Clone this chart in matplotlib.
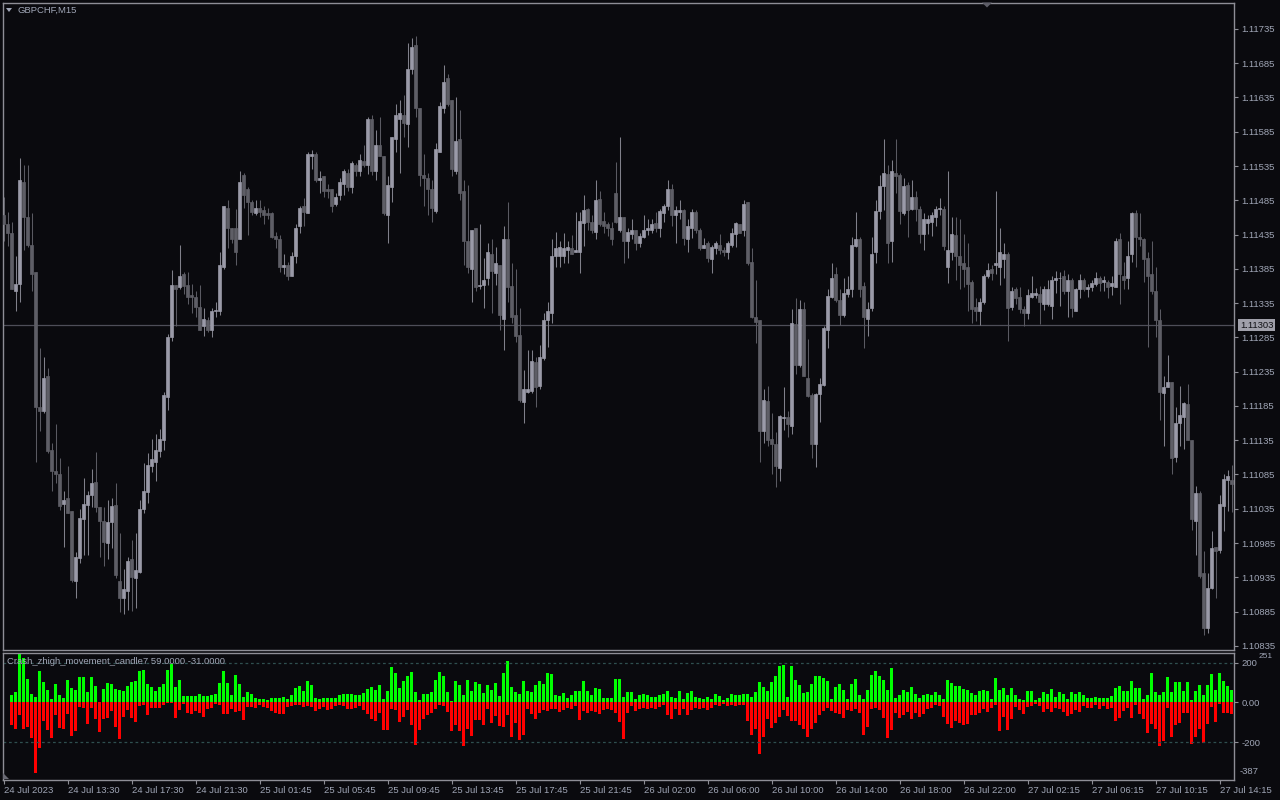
import matplotlib
matplotlib.use("Agg")
import matplotlib.pyplot as plt
import numpy as np
from matplotlib.patches import Polygon
from matplotlib.transforms import blended_transform_factory

plt.rcParams['font.family'] = ['Liberation Sans', 'DejaVu Sans']

symbol = "GBPCHF,M15"
indicator_name = "Crash_zhigh_movement_candle7 59.0000 -31.0000"
last_price = 1.11303

# M15 candles, one per bar
open_ = [
    1.11463, 1.11450, 1.11438, 1.11353, 1.11363, 1.11512, 1.11461, 1.11420, 1.11381, 1.11184,
    1.11178, 1.11228, 1.11121, 1.11090, 1.11085, 1.11042, 1.11051, 1.11032, 1.10930, 1.10963,
    1.11020, 1.11041, 1.11055, 1.11074, 1.11038, 1.11017, 1.10985, 1.11016, 1.11041, 1.10930,
    1.10905, 1.10915, 1.10962, 1.10934, 1.10943, 1.11035, 1.11060, 1.11098, 1.11103, 1.11120,
    1.11136, 1.11198, 1.11285, 1.11362, 1.11358, 1.11377, 1.11362, 1.11347, 1.11344, 1.11330,
    1.11301, 1.11311, 1.11296, 1.11323, 1.11323, 1.11387, 1.11474, 1.11444, 1.11445, 1.11429,
    1.11522, 1.11502, 1.11482, 1.11467, 1.11474, 1.11471, 1.11466, 1.11466, 1.11433, 1.11429,
    1.11387, 1.11391, 1.11375, 1.11403, 1.11447, 1.11476, 1.11467, 1.11550, 1.11552, 1.11515,
    1.11520, 1.11502, 1.11502, 1.11479, 1.11492, 1.11509, 1.11525, 1.11504, 1.11537, 1.11528,
    1.11543, 1.11537, 1.11603, 1.11528, 1.11566, 1.11550, 1.11464, 1.11505, 1.11574, 1.11604,
    1.11609, 1.11596, 1.11676, 1.11711, 1.11620, 1.11522, 1.11518, 1.11502, 1.11470, 1.11556,
    1.11620, 1.11663, 1.11631, 1.11527, 1.11574, 1.11498, 1.11426, 1.11385, 1.11444, 1.11360,
    1.11362, 1.11371, 1.11407, 1.11379, 1.11391, 1.11312, 1.11428, 1.11360, 1.11317, 1.11289,
    1.11191, 1.11206, 1.11207, 1.11249, 1.11214, 1.11255, 1.11311, 1.11320, 1.11403, 1.11403,
    1.11404, 1.11412, 1.11416, 1.11409, 1.11410, 1.11452, 1.11473, 1.11454, 1.11439, 1.11487,
    1.11455, 1.11451, 1.11445, 1.11495, 1.11441, 1.11461, 1.11426, 1.11436, 1.11441, 1.11423,
    1.11432, 1.11442, 1.11441, 1.11452, 1.11445, 1.11467, 1.11476, 1.11501, 1.11464, 1.11468,
    1.11471, 1.11429, 1.11444, 1.11468, 1.11442, 1.11416, 1.11423, 1.11400, 1.11416, 1.11420,
    1.11413, 1.11409, 1.11420, 1.11436, 1.11451, 1.11441, 1.11482, 1.11395, 1.11315, 1.11311,
    1.11149, 1.11192, 1.11137, 1.11130, 1.11095, 1.11168, 1.11169, 1.11156, 1.11305, 1.11245,
    1.11327, 1.11226, 1.11201, 1.11130, 1.11203, 1.11216, 1.11296, 1.11344, 1.11377, 1.11340,
    1.11317, 1.11349, 1.11356, 1.11419, 1.11429, 1.11360, 1.11312, 1.11328, 1.11409, 1.11470,
    1.11506, 1.11524, 1.11425, 1.11525, 1.11522, 1.11467, 1.11508, 1.11473, 1.11490, 1.11473,
    1.11436, 1.11452, 1.11454, 1.11461, 1.11473, 1.11473, 1.11388, 1.11409, 1.11435, 1.11404,
    1.11394, 1.11387, 1.11366, 1.11330, 1.11323, 1.11336, 1.11374, 1.11385, 1.11390, 1.11388,
    1.11400, 1.11406, 1.11330, 1.11356, 1.11344, 1.11327, 1.11320, 1.11344, 1.11347, 1.11349,
    1.11334, 1.11333, 1.11331, 1.11369, 1.11371, 1.11374, 1.11352, 1.11369, 1.11324, 1.11355,
    1.11369, 1.11356, 1.11359, 1.11363, 1.11371, 1.11366, 1.11366, 1.11360, 1.11359, 1.11429,
    1.11375, 1.11371, 1.11406, 1.11466, 1.11432, 1.11428, 1.11401, 1.11378, 1.11352, 1.11311,
    1.11204, 1.11213, 1.11220, 1.11111, 1.11160, 1.11169, 1.11188, 1.11136, 1.11017, 1.11058,
    1.10941, 1.10861, 1.10920, 1.10979, 1.10975, 1.11039, 1.11077, 1.11077,
]
high = [
    1.11490, 1.11468, 1.11454, 1.11403, 1.11547, 1.11536, 1.11536, 1.11466, 1.11381, 1.11270,
    1.11257, 1.11241, 1.11131, 1.11159, 1.11109, 1.11061, 1.11098, 1.11032, 1.10972, 1.11035,
    1.11080, 1.11061, 1.11093, 1.11118, 1.11038, 1.11038, 1.11048, 1.11051, 1.11073, 1.11000,
    1.10947, 1.10965, 1.10990, 1.11000, 1.11048, 1.11102, 1.11117, 1.11137, 1.11144, 1.11152,
    1.11206, 1.11290, 1.11384, 1.11362, 1.11420, 1.11381, 1.11381, 1.11363, 1.11352, 1.11362,
    1.11328, 1.11315, 1.11328, 1.11336, 1.11410, 1.11477, 1.11485, 1.11445, 1.11473, 1.11528,
    1.11525, 1.11504, 1.11485, 1.11485, 1.11486, 1.11477, 1.11474, 1.11468, 1.11439, 1.11435,
    1.11407, 1.11395, 1.11409, 1.11450, 1.11476, 1.11489, 1.11555, 1.11559, 1.11555, 1.11527,
    1.11520, 1.11509, 1.11502, 1.11496, 1.11517, 1.11530, 1.11531, 1.11543, 1.11540, 1.11553,
    1.11566, 1.11607, 1.11609, 1.11588, 1.11606, 1.11550, 1.11520, 1.11578, 1.11625, 1.11632,
    1.11638, 1.11715, 1.11721, 1.11725, 1.11620, 1.11552, 1.11525, 1.11515, 1.11569, 1.11628,
    1.11682, 1.11669, 1.11632, 1.11635, 1.11616, 1.11515, 1.11508, 1.11442, 1.11444, 1.11450,
    1.11401, 1.11423, 1.11428, 1.11417, 1.11391, 1.11447, 1.11483, 1.11394, 1.11385, 1.11328,
    1.11238, 1.11267, 1.11267, 1.11257, 1.11274, 1.11321, 1.11336, 1.11428, 1.11439, 1.11425,
    1.11438, 1.11425, 1.11435, 1.11468, 1.11468, 1.11493, 1.11474, 1.11464, 1.11515, 1.11498,
    1.11468, 1.11454, 1.11454, 1.11541, 1.11578, 1.11461, 1.11444, 1.11458, 1.11441, 1.11438,
    1.11464, 1.11457, 1.11458, 1.11468, 1.11473, 1.11479, 1.11515, 1.11509, 1.11476, 1.11485,
    1.11473, 1.11458, 1.11473, 1.11471, 1.11445, 1.11430, 1.11425, 1.11420, 1.11425, 1.11436,
    1.11417, 1.11425, 1.11445, 1.11454, 1.11451, 1.11485, 1.11483, 1.11415, 1.11369, 1.11311,
    1.11210, 1.11214, 1.11175, 1.11147, 1.11172, 1.11212, 1.11177, 1.11327, 1.11343, 1.11340,
    1.11337, 1.11282, 1.11204, 1.11204, 1.11226, 1.11301, 1.11355, 1.11394, 1.11387, 1.11356,
    1.11371, 1.11375, 1.11432, 1.11468, 1.11432, 1.11366, 1.11337, 1.11432, 1.11485, 1.11522,
    1.11574, 1.11536, 1.11544, 1.11574, 1.11525, 1.11518, 1.11511, 1.11514, 1.11498, 1.11476,
    1.11466, 1.11463, 1.11468, 1.11477, 1.11489, 1.11476, 1.11528, 1.11461, 1.11461, 1.11457,
    1.11436, 1.11423, 1.11368, 1.11343, 1.11342, 1.11377, 1.11393, 1.11391, 1.11498, 1.11445,
    1.11423, 1.11410, 1.11358, 1.11358, 1.11358, 1.11331, 1.11356, 1.11375, 1.11357, 1.11360,
    1.11360, 1.11369, 1.11375, 1.11382, 1.11381, 1.11384, 1.11377, 1.11371, 1.11357, 1.11378,
    1.11371, 1.11363, 1.11369, 1.11381, 1.11374, 1.11374, 1.11369, 1.11375, 1.11430, 1.11438,
    1.11395, 1.11425, 1.11468, 1.11471, 1.11466, 1.11430, 1.11410, 1.11426, 1.11387, 1.11327,
    1.11228, 1.11260, 1.11220, 1.11184, 1.11214, 1.11191, 1.11217, 1.11136, 1.11068, 1.11061,
    1.10974, 1.10941, 1.11003, 1.10979, 1.11055, 1.11086, 1.11092, 1.11099,
]
low = [
    1.11425, 1.11419, 1.11355, 1.11323, 1.11336, 1.11412, 1.11417, 1.11352, 1.11103, 1.11149,
    1.11175, 1.11117, 1.11061, 1.11073, 1.11033, 1.10979, 1.11029, 1.10928, 1.10905, 1.10956,
    1.10968, 1.10968, 1.11038, 1.11030, 1.10965, 1.10952, 1.10962, 1.10978, 1.10934, 1.10885,
    1.10882, 1.10887, 1.10886, 1.10890, 1.10941, 1.11029, 1.11044, 1.11089, 1.11076, 1.11111,
    1.11121, 1.11179, 1.11280, 1.11302, 1.11356, 1.11349, 1.11333, 1.11321, 1.11315, 1.11296,
    1.11287, 1.11293, 1.11285, 1.11315, 1.11317, 1.11385, 1.11416, 1.11422, 1.11390, 1.11428,
    1.11474, 1.11435, 1.11463, 1.11464, 1.11461, 1.11451, 1.11458, 1.11430, 1.11416, 1.11381,
    1.11377, 1.11369, 1.11374, 1.11394, 1.11438, 1.11448, 1.11466, 1.11530, 1.11512, 1.11496,
    1.11490, 1.11489, 1.11468, 1.11476, 1.11485, 1.11492, 1.11498, 1.11496, 1.11520, 1.11521,
    1.11534, 1.11524, 1.11522, 1.11515, 1.11549, 1.11463, 1.11423, 1.11482, 1.11556, 1.11525,
    1.11578, 1.11563, 1.11669, 1.11607, 1.11506, 1.11477, 1.11463, 1.11454, 1.11467, 1.11555,
    1.11613, 1.11623, 1.11521, 1.11524, 1.11486, 1.11391, 1.11379, 1.11336, 1.11353, 1.11355,
    1.11328, 1.11362, 1.11321, 1.11362, 1.11296, 1.11267, 1.11336, 1.11306, 1.11279, 1.11191,
    1.11160, 1.11204, 1.11204, 1.11184, 1.11209, 1.11252, 1.11271, 1.11306, 1.11388, 1.11388,
    1.11393, 1.11394, 1.11407, 1.11409, 1.11379, 1.11419, 1.11442, 1.11438, 1.11429, 1.11447,
    1.11438, 1.11433, 1.11420, 1.11452, 1.11439, 1.11394, 1.11401, 1.11428, 1.11413, 1.11417,
    1.11430, 1.11435, 1.11438, 1.11439, 1.11432, 1.11454, 1.11471, 1.11448, 1.11423, 1.11457,
    1.11420, 1.11409, 1.11430, 1.11438, 1.11412, 1.11416, 1.11395, 1.11379, 1.11406, 1.11406,
    1.11403, 1.11400, 1.11417, 1.11417, 1.11438, 1.11433, 1.11391, 1.11314, 1.11277, 1.11103,
    1.11131, 1.11127, 1.11085, 1.11067, 1.11076, 1.11150, 1.11140, 1.11144, 1.11231, 1.11242,
    1.11228, 1.11198, 1.11109, 1.11096, 1.11162, 1.11214, 1.11270, 1.11343, 1.11336, 1.11303,
    1.11315, 1.11344, 1.11344, 1.11417, 1.11344, 1.11270, 1.11287, 1.11324, 1.11394, 1.11457,
    1.11471, 1.11394, 1.11395, 1.11496, 1.11450, 1.11463, 1.11432, 1.11471, 1.11455, 1.11423,
    1.11413, 1.11436, 1.11433, 1.11447, 1.11464, 1.11412, 1.11365, 1.11398, 1.11369, 1.11356,
    1.11358, 1.11323, 1.11306, 1.11309, 1.11303, 1.11333, 1.11371, 1.11369, 1.11377, 1.11362,
    1.11372, 1.11280, 1.11325, 1.11333, 1.11320, 1.11301, 1.11312, 1.11343, 1.11342, 1.11305,
    1.11325, 1.11331, 1.11312, 1.11350, 1.11331, 1.11349, 1.11315, 1.11315, 1.11323, 1.11342,
    1.11352, 1.11344, 1.11352, 1.11360, 1.11352, 1.11353, 1.11342, 1.11347, 1.11358, 1.11334,
    1.11356, 1.11356, 1.11395, 1.11387, 1.11419, 1.11366, 1.11271, 1.11349, 1.11286, 1.11165,
    1.11127, 1.11212, 1.11085, 1.11103, 1.11127, 1.11122, 1.11136, 1.11004, 1.10968, 1.10934,
    1.10851, 1.10854, 1.10918, 1.10905, 1.10971, 1.11003, 1.11032, 1.11030,
]
close = [
    1.11451, 1.11438, 1.11355, 1.11363, 1.11514, 1.11460, 1.11420, 1.11377, 1.11184, 1.11178,
    1.11226, 1.11120, 1.11090, 1.11085, 1.11039, 1.11048, 1.11029, 1.10931, 1.10965, 1.11022,
    1.11042, 1.11055, 1.11073, 1.11038, 1.11017, 1.10987, 1.11016, 1.11039, 1.10939, 1.10905,
    1.10918, 1.10959, 1.10936, 1.10946, 1.11035, 1.11061, 1.11099, 1.11108, 1.11121, 1.11137,
    1.11201, 1.11286, 1.11362, 1.11356, 1.11375, 1.11360, 1.11344, 1.11344, 1.11330, 1.11296,
    1.11312, 1.11296, 1.11323, 1.11325, 1.11390, 1.11476, 1.11444, 1.11429, 1.11409, 1.11511,
    1.11492, 1.11482, 1.11468, 1.11474, 1.11468, 1.11464, 1.11463, 1.11432, 1.11429, 1.11387,
    1.11391, 1.11374, 1.11403, 1.11445, 1.11474, 1.11468, 1.11553, 1.11553, 1.11515, 1.11518,
    1.11499, 1.11499, 1.11476, 1.11490, 1.11512, 1.11527, 1.11505, 1.11539, 1.11528, 1.11544,
    1.11536, 1.11604, 1.11527, 1.11565, 1.11550, 1.11466, 1.11508, 1.11577, 1.11610, 1.11612,
    1.11597, 1.11676, 1.11709, 1.11620, 1.11522, 1.11518, 1.11502, 1.11474, 1.11560, 1.11622,
    1.11658, 1.11625, 1.11530, 1.11571, 1.11496, 1.11426, 1.11388, 1.11442, 1.11358, 1.11362,
    1.11369, 1.11410, 1.11382, 1.11394, 1.11317, 1.11429, 1.11358, 1.11315, 1.11287, 1.11194,
    1.11209, 1.11209, 1.11251, 1.11213, 1.11257, 1.11311, 1.11323, 1.11404, 1.11416, 1.11417,
    1.11415, 1.11417, 1.11407, 1.11413, 1.11455, 1.11471, 1.11454, 1.11441, 1.11486, 1.11451,
    1.11448, 1.11445, 1.11428, 1.11454, 1.11461, 1.11425, 1.11439, 1.11442, 1.11423, 1.11433,
    1.11442, 1.11444, 1.11451, 1.11444, 1.11470, 1.11476, 1.11502, 1.11463, 1.11471, 1.11471,
    1.11430, 1.11448, 1.11468, 1.11441, 1.11415, 1.11420, 1.11401, 1.11417, 1.11422, 1.11412,
    1.11409, 1.11423, 1.11438, 1.11452, 1.11438, 1.11480, 1.11393, 1.11315, 1.11308, 1.11149,
    1.11194, 1.11136, 1.11130, 1.11098, 1.11171, 1.11169, 1.11158, 1.11306, 1.11244, 1.11327,
    1.11228, 1.11200, 1.11130, 1.11203, 1.11217, 1.11299, 1.11346, 1.11372, 1.11340, 1.11318,
    1.11350, 1.11356, 1.11420, 1.11429, 1.11355, 1.11315, 1.11327, 1.11407, 1.11470, 1.11506,
    1.11525, 1.11423, 1.11528, 1.11521, 1.11470, 1.11506, 1.11471, 1.11490, 1.11473, 1.11436,
    1.11458, 1.11458, 1.11464, 1.11473, 1.11474, 1.11419, 1.11412, 1.11436, 1.11404, 1.11391,
    1.11385, 1.11363, 1.11327, 1.11323, 1.11337, 1.11375, 1.11384, 1.11379, 1.11394, 1.11410,
    1.11407, 1.11328, 1.11353, 1.11343, 1.11327, 1.11320, 1.11347, 1.11350, 1.11350, 1.11336,
    1.11355, 1.11356, 1.11369, 1.11372, 1.11372, 1.11352, 1.11369, 1.11328, 1.11355, 1.11369,
    1.11356, 1.11359, 1.11365, 1.11372, 1.11365, 1.11369, 1.11359, 1.11365, 1.11426, 1.11377,
    1.11369, 1.11403, 1.11466, 1.11432, 1.11428, 1.11400, 1.11375, 1.11352, 1.11311, 1.11206,
    1.11213, 1.11220, 1.11109, 1.11160, 1.11172, 1.11190, 1.11136, 1.11020, 1.11058, 1.10937,
    1.10861, 1.10920, 1.10978, 1.10974, 1.11042, 1.11079, 1.11083, 1.11071,
]

# indicator histogram, starts at bar 2
hist_start = 2
up_move = [
    35, 52, 245, 223, 120, 45, 28, 160, 103, 65,
    15, 93, 37, 23, 115, 73, 65, 127, 128, 52,
    127, 85, 2, 70, 97, 93, 68, 65, 60, 82,
    102, 108, 157, 165, 93, 80, 57, 77, 95, 165,
    195, 78, 115, 32, 32, 32, 32, 45, 32, 32,
    35, 45, 98, 157, 98, 40, 137, 93, 28, 52,
    43, 23, 18, 15, 12, 23, 20, 23, 27, 15,
    40, 73, 82, 57, 107, 90, 23, 18, 20, 20,
    23, 20, 40, 45, 45, 43, 40, 35, 48, 70,
    78, 65, 90, 18, 57, 178, 148, 73, 110, 135,
    153, 53, 10, 45, 45, 55, 115, 155, 132, 55,
    5, 110, 90, 35, 115, 60, 103, 95, 48, 90,
    62, 97, 32, 148, 210, 77, 53, 45, 107, 57,
    53, 87, 110, 95, 148, 143, 35, 32, 48, 23,
    35, 57, 57, 108, 57, 40, 73, 68, 20, 20,
    20, 118, 118, 28, 52, 53, 15, 35, 45, 35,
    28, 28, 35, 45, 60, 28, 22, 60, 15, 48,
    60, 28, 20, 18, 28, 15, 45, 32, 12, 23,
    45, 35, 40, 45, 45, 28, 53, 103, 80, 57,
    103, 135, 182, 190, 28, 182, 115, 87, 48, 53,
    95, 135, 132, 123, 107, 15, 77, 93, 65, 18,
    95, 118, 40, 18, 65, 140, 157, 132, 112, 65,
    173, 23, 35, 65, 52, 78, 45, 22, 38, 45,
    35, 52, 35, 15, 115, 98, 85, 85, 68, 65,
    48, 35, 57, 65, 60, 18, 123, 65, 73, 40,
    73, 35, 15, 10, 57, 60, 10, 20, 53, 45,
    68, 28, 52, 45, 18, 52, 45, 53, 35, 20,
    23, 28, 20, 23, 20, 32, 73, 85, 57, 57,
    110, 72, 72, 18, 40, 148, 53, 40, 53, 128,
    53, 102, 105, 60, 103, 10, 60, 90, 40, 90,
    145, 62, 148, 110, 85, 65,
]
down_move = [
    -115, -132, -65, -135, -122, -178, -355, -230, -93, -138,
    -180, -65, -127, -135, -57, -168, -143, -23, -27, -110,
    -27, -82, -148, -85, -77, -43, -122, -182, -72, -40,
    -78, -98, -18, -12, -65, -27, -30, -30, -12, -5,
    -2, -78, -40, -10, -55, -60, -43, -55, -72, -32,
    -30, -10, -15, -60, -60, -35, -48, -43, -87, -23,
    -23, -27, -15, -22, -27, -43, -52, -57, -60, -23,
    -18, -13, -13, -22, -18, -23, -43, -35, -23, -38,
    -35, -18, -15, -18, -32, -35, -30, -18, -38, -57,
    -85, -93, -55, -138, -138, -35, -40, -98, -73, -38,
    -112, -215, -138, -85, -65, -52, -32, -12, -18, -48,
    -143, -115, -143, -218, -135, -168, -90, -90, -115, -35,
    -102, -68, -118, -122, -63, -173, -102, -188, -163, -35,
    -60, -85, -52, -40, -43, -32, -35, -48, -38, -28,
    -32, -18, -90, -43, -52, -43, -48, -60, -37, -32,
    -37, -53, -98, -185, -55, -18, -45, -35, -27, -32,
    -27, -35, -23, -15, -65, -85, -35, -65, -35, -65,
    -40, -27, -35, -28, -40, -28, -12, -18, -10, -18,
    -12, -18, -12, -12, -93, -165, -135, -260, -173, -85,
    -127, -102, -72, -38, -68, -93, -93, -115, -135, -172,
    -132, -102, -63, -43, -27, -43, -52, -60, -77, -38,
    -43, -35, -55, -163, -122, -35, -27, -38, -77, -177,
    -138, -52, -80, -65, -48, -82, -52, -72, -60, -32,
    -30, -13, -18, -73, -107, -127, -93, -102, -115, -110,
    -63, -65, -55, -35, -48, -27, -15, -143, -73, -138,
    -85, -23, -40, -60, -23, -18, -10, -18, -48, -35,
    -48, -27, -35, -48, -68, -60, -38, -48, -18, -27,
    -27, -15, -32, -18, -32, -27, -93, -80, -43, -30,
    -77, -15, -60, -85, -152, -110, -135, -218, -193, -30,
    -173, -113, -102, -55, -52, -210, -173, -135, -202, -110,
    -23, -98, -7, -55, -55, -60,
]
level_hi = 200
level_lo = -200
sub_max = 251
sub_min = -387

time_labels = [
    "24 Jul 2023", "24 Jul 13:30", "24 Jul 17:30", "24 Jul 21:30", "25 Jul 01:45",
    "25 Jul 05:45", "25 Jul 09:45", "25 Jul 13:45", "25 Jul 17:45", "25 Jul 21:45",
    "26 Jul 02:00", "26 Jul 06:00", "26 Jul 10:00", "26 Jul 14:00", "26 Jul 18:00",
    "26 Jul 22:00", "27 Jul 02:15", "27 Jul 06:15", "27 Jul 10:15", "27 Jul 14:15",
]
label_every = 16

price_ticks = [round(1.10835 + 0.0005 * k, 5) for k in range(19)]

# colours
bg = "#0a0a0e"
frame = "#8e8e96"
txt = "#a0a6b6"
bull = "#9a9aa8"
bear = "#5e5e66"
bull_wick = "#80808a"
bear_wick = "#5a5a62"
fs = 6.8

W, H = 1280, 800


def px_box(left, top, right, bottom):
    return [left / W, 1 - bottom / H, (right - left) / W, (bottom - top) / H]


def px_poly(points):
    return [(x / W, 1 - y / H) for x, y in points]


fig = plt.figure(figsize=(12.8, 8), dpi=100, facecolor=bg)
ax = fig.add_axes(px_box(2.5, 2.5, 1234, 650))
ax2 = fig.add_axes(px_box(2.5, 652.5, 1234, 779.5), sharex=ax)

for a in (ax, ax2):
    a.set_facecolor(bg)
    for s in a.spines.values():
        s.set_color(frame)
        s.set_linewidth(1.0)

# --- candles
o = np.array(open_)
h = np.array(high)
l = np.array(low)
c = np.array(close)
x = np.arange(len(o))
up = c >= o
body_col = np.where(up, bull, bear)
wick_col = np.where(up, bull_wick, bear_wick)

ax.axhline(last_price, color="#4e4e58", lw=0.9, zorder=0.5)
ax.vlines(x, l, h, colors=wick_col, linewidth=0.75, zorder=2)
ax.bar(x, np.abs(c - o), width=0.6, bottom=np.minimum(o, c), color=body_col,
       edgecolor=body_col, linewidth=0.5, zorder=3)

ax.set_xlim(-0.25, 307.625)
ax.set_ylim(1.10829, 1.117735)
ax.yaxis.tick_right()
ax.set_yticks(price_ticks)
ax.set_yticklabels(["%.5f" % p for p in price_ticks])
ax.tick_params(axis="y", colors=frame, labelcolor=txt, length=3, width=0.8,
               pad=2.5, labelsize=fs)
ax.tick_params(axis="x", bottom=False, labelbottom=False)

tr = blended_transform_factory(ax.transAxes, ax.transData)
ax.text(1.0049, last_price, "%.5f" % last_price, transform=tr, ha="left",
        va="center", fontsize=fs, color="#101014", clip_on=False,
        bbox=dict(boxstyle="square,pad=0.2", fc="#a0a0aa", ec="none"))

# --- indicator
xh = np.arange(len(up_move)) + hist_start
ax2.bar(xh, up_move, width=0.75, color="#00ff00", linewidth=0)
ax2.bar(xh, down_move, width=0.75, color="#ff0000", linewidth=0)
for lv in (level_hi, level_lo):
    ax2.axhline(lv, color="#2f4f4f", lw=0.9, dashes=(2.2, 2.2))
ax2.set_ylim(sub_min, sub_max)
ax2.yaxis.tick_right()
ax2.set_yticks([level_hi, 0, level_lo])
ax2.set_yticklabels(["200", "0.00", "-200"])
ax2.tick_params(axis="y", colors=frame, labelcolor=txt, length=3, width=0.8,
                pad=2.5, labelsize=fs)
# scale max sits just right of the "200" label so the two stay readable
fig.text(1259 / W, 1 - 657 / H, str(sub_max), ha="left", va="center",
         fontsize=6.0, color=txt)
tr2 = blended_transform_factory(ax2.transAxes, ax2.transData)
ax2.text(1.0049, sub_min + 40, str(sub_min), transform=tr2, ha="left",
         va="center", fontsize=fs, color=txt, clip_on=False)

tick_pos = [label_every * k for k in range(len(time_labels))]
ax2.set_xticks(tick_pos)
ax2.set_xticklabels(time_labels)
for lab in ax2.get_xticklabels():
    lab.set_horizontalalignment("left")
ax2.tick_params(axis="x", colors=frame, labelcolor=txt, length=3, width=0.8,
                pad=1.5, labelsize=fs)
ax2.set_xlim(-0.25, 307.625)

# --- labels and small markers
fig.text(18 / W, 1 - 10 / H, symbol, ha="left", va="center", fontsize=fs,
         color=txt)
fig.text(7 / W, 1 - 661.5 / H, indicator_name, ha="left", va="center",
         fontsize=fs, color=txt)
fig.patches.append(Polygon(px_poly([(6, 8), (12, 8), (9, 12)]), closed=True,
                           transform=fig.transFigure, fc=txt, ec="none"))
fig.patches.append(Polygon(px_poly([(982, 2.5), (992, 2.5), (987, 7.5)]),
                           closed=True, transform=fig.transFigure,
                           fc="#5e5e68", ec="none"))
fig.patches.append(Polygon(px_poly([(3, 773), (3, 779), (8.5, 779)]),
                           closed=True, transform=fig.transFigure,
                           fc="#6a6a74", ec="none"))

fig.savefig("out.png", dpi=100, facecolor=bg)
